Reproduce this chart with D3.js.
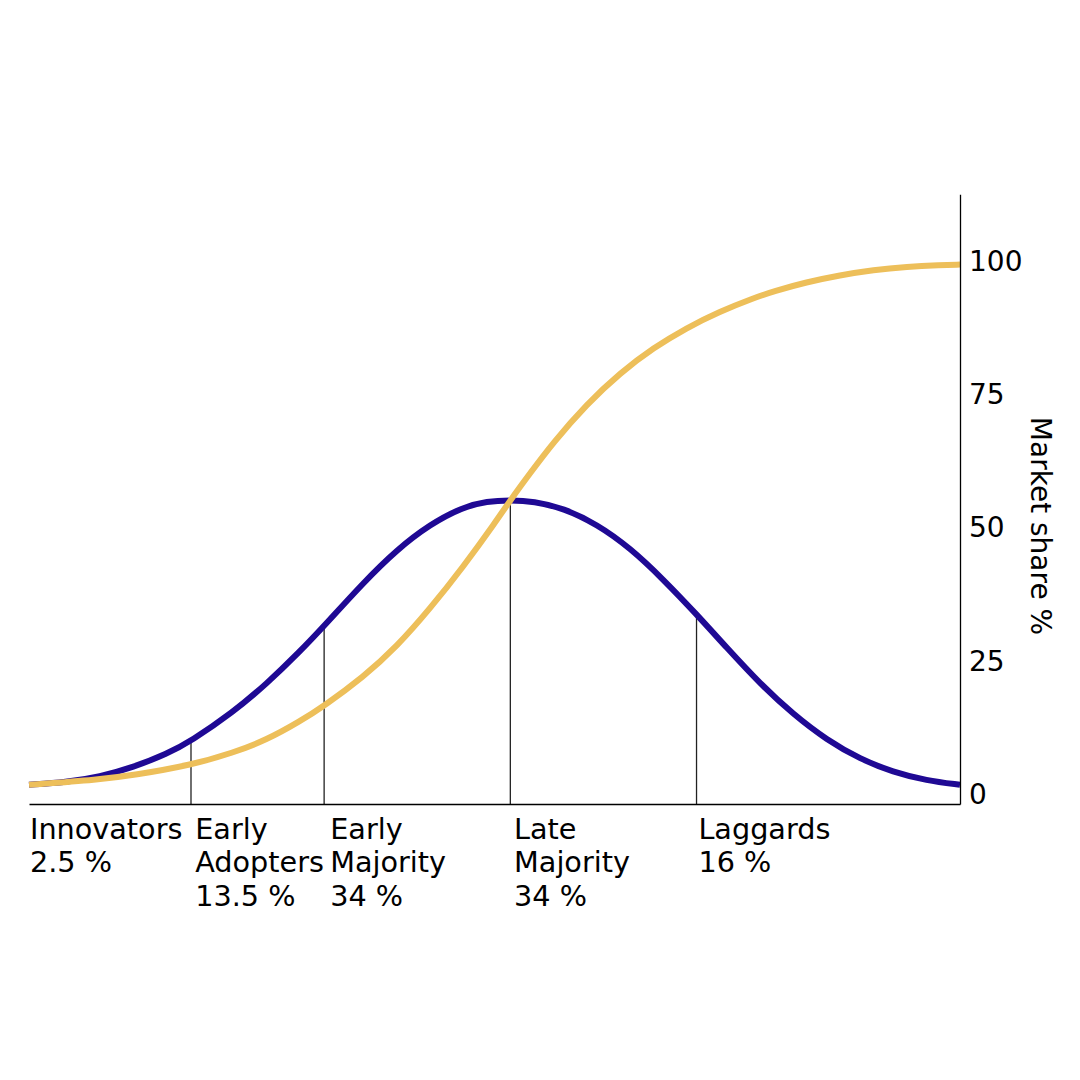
<!DOCTYPE html>
<html>
<head>
<meta charset="utf-8">
<script src="https://cdn.jsdelivr.net/npm/d3@7"></script>
<style>
  html, body { margin: 0; padding: 0; background: #ffffff; }
  svg { display: block; }
  text { font-family: "DejaVu Sans", sans-serif; }
</style>
</head>
<body>
<svg id="chart" width="1080" height="1080"></svg>
<script>
// ---- data ----
const adoptionX   = [0, 4.0, 7.6, 11.2, 14.8, 17.4, 21.9, 25.5, 29.1, 31.7, 35.9, 39.5, 43.1, 46.6, 49.2, 51.7, 54.2, 57.4, 61.0, 64.6, 68.1, 71.7, 74.9, 78.5, 82.1, 85.7, 89.3, 92.8, 96.4, 100];
const adoptionY   = [1.6, 2.1, 3.1, 4.9, 7.4, 9.8, 15.2, 20.5, 26.6, 31.4, 39.5, 45.7, 50.5, 53.7, 54.8, 55.0, 54.8, 53.5, 50.5, 46.0, 40.2, 33.6, 27.4, 20.6, 14.8, 10.0, 6.4, 4.0, 2.4, 1.6];

const shareX      = [0, 7.6, 11.2, 17.4, 21.9, 25.5, 29.1, 31.7, 35.9, 39.5, 43.1, 46.6, 50.2, 51.7, 53.8, 56.3, 59.9, 63.5, 67.1, 70.6, 74.2, 77.8, 80.0, 83.5, 87.1, 90.7, 94.3, 97.9, 100];
const shareY      = [1.6, 2.6, 3.4, 5.3, 7.6, 10.0, 13.5, 16.4, 21.8, 27.5, 34.7, 42.4, 51.1, 55.0, 60.0, 65.8, 73.0, 78.9, 83.6, 87.3, 90.4, 92.9, 94.2, 95.9, 97.2, 98.2, 98.8, 99.1, 99.2];

const dividerX      = [17.4, 31.7, 51.7, 71.7];
const dividerTop    = [9.8, 31.4, 55.0, 33.6];

const categoryNames = [["Innovators"], ["Early", "Adopters"], ["Early", "Majority"], ["Late", "Majority"], ["Laggards"]];
const categoryShare = ["2.5 %", "13.5 %", "34 %", "34 %", "16 %"];
const categoryX     = [0.1, 17.85, 32.35, 52.1, 71.9];

const yTicks      = [0, 25, 50, 75, 100];
const yLabel      = "Market share %";
const xDomain     = [0, 100];
const yDomain     = [-2, 112.4];

// ---- layout ----
const svg = d3.select("#chart");
const x = d3.scaleLinear().domain(xDomain).range([29, 960]);
const y = d3.scaleLinear().domain(yDomain).range([804, 194.2]);

const blue = "#1f0994";
const gold = "#edbf5a";

// dividers
svg.append("g").selectAll("line")
  .data(dividerX.map((d, i) => ({ x: d, top: dividerTop[i] })))
  .join("line")
  .attr("x1", d => x(d.x)).attr("x2", d => x(d.x))
  .attr("y1", y(yDomain[0])).attr("y2", d => y(d.top))
  .attr("stroke", "#222").attr("stroke-width", 1.3);

const line = d3.line().x(d => x(d[0])).y(d => y(d[1])).curve(d3.curveBasis);

svg.append("path")
  .datum(adoptionX.map((d, i) => [d, adoptionY[i]]))
  .attr("d", line)
  .attr("fill", "none").attr("stroke", blue).attr("stroke-width", 6);

svg.append("path")
  .datum(shareX.map((d, i) => [d, shareY[i]]))
  .attr("d", line)
  .attr("fill", "none").attr("stroke", gold).attr("stroke-width", 6);

// bottom axis (no ticks)
const xAxis = svg.append("g")
  .attr("transform", `translate(0,${y(yDomain[0])})`)
  .call(d3.axisBottom(x).tickValues([]).tickSizeOuter(0));
xAxis.select(".domain").attr("stroke", "#000").attr("stroke-width", 1.3);

// right axis
const yAxis = svg.append("g")
  .attr("transform", `translate(${x(xDomain[1])},0)`)
  .call(d3.axisRight(y).tickValues(yTicks).tickSize(0).tickSizeOuter(0).tickPadding(9));
yAxis.select(".domain").attr("stroke", "#000").attr("stroke-width", 1.3);
yAxis.selectAll(".tick text")
  .attr("font-family", "DejaVu Sans, sans-serif")
  .attr("font-size", 28)
  .attr("fill", "#000")
  .attr("dy", "0.36em");

// y label
svg.append("text")
  .attr("transform", "translate(1031,526) rotate(90)")
  .attr("text-anchor", "middle")
  .attr("font-size", 28)
  .attr("fill", "#000")
  .text(yLabel);

// category labels
const lab = svg.append("g").attr("font-size", 28.7).attr("fill", "#000");
categoryNames.forEach((names, i) => {
  const t = lab.append("text").attr("x", x(categoryX[i])).attr("y", 839);
  const lines = names.concat([categoryShare[i]]);
  lines.forEach((s, j) => {
    t.append("tspan").attr("x", x(categoryX[i])).attr("y", 839 + j * 33.4).text(s);
  });
});
</script>
</body>
</html>
